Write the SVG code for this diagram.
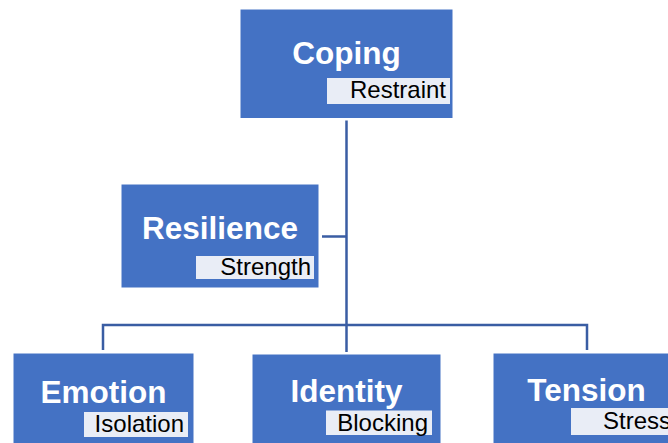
<svg xmlns="http://www.w3.org/2000/svg" width="668" height="443" viewBox="0 0 668 443">
<style>
.box{fill:#4472C4;stroke:#FFFFFF;stroke-width:1}
.sub{fill:#E9EDF6}
.main{font-family:"Liberation Sans",Arial,sans-serif;font-weight:bold;font-size:31.5px;fill:#FFFFFF;text-anchor:middle}
.lab{font-family:"Liberation Sans",Arial,sans-serif;font-size:24px;fill:#000000;text-anchor:end}
.conn{fill:none;stroke:#3A5DA3;stroke-width:2.5}
</style>
<rect width="668" height="443" fill="#FFFFFF"/>
<g id="connectors">
<path class="conn" d="M346.5,120.5 V325"/>
<path class="conn" d="M322,236.5 H346.5"/>
<path class="conn" d="M103,350 V325 H587 V350"/>
<path class="conn" d="M346.5,325 V352"/>
</g>
<g id="coping">
<rect class="box" x="240" y="9" width="213" height="109.5"/>
<text class="main" x="346.5" y="64">Coping</text>
<rect class="sub" x="327" y="78" width="123" height="26"/>
<text class="lab" x="446" y="98">Restraint</text>
</g>
<g id="resilience">
<rect class="box" x="121" y="184" width="198" height="104"/>
<text class="main" x="220" y="238.5">Resilience</text>
<rect class="sub" x="196" y="256" width="118" height="23"/>
<text class="lab" x="311" y="274.5">Strength</text>
</g>
<g id="emotion">
<rect class="box" x="13" y="353" width="181" height="100"/>
<text class="main" x="103.5" y="402.5">Emotion</text>
<rect class="sub" x="84" y="412" width="104" height="25"/>
<text class="lab" x="184" y="431.5">Isolation</text>
</g>
<g id="identity">
<rect class="box" x="252" y="354" width="189" height="100"/>
<text class="main" x="346.5" y="402">Identity</text>
<rect class="sub" x="326" y="410.5" width="106" height="24.5"/>
<text class="lab" x="428" y="430.5">Blocking</text>
</g>
<g id="tension">
<rect class="box" x="493" y="353" width="189" height="100"/>
<text class="main" x="586.5" y="401">Tension</text>
<rect class="sub" x="571" y="408" width="106" height="27"/>
<text class="lab" x="671" y="429">Stress</text>
</g>
</svg>
